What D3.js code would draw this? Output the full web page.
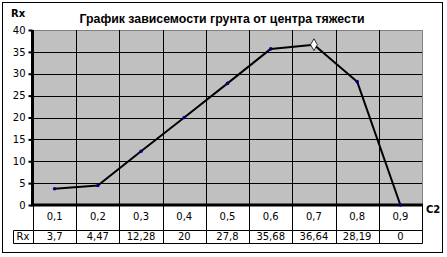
<!DOCTYPE html>
<html>
<head>
<meta charset="utf-8">
<script src="https://cdn.jsdelivr.net/npm/d3@7"></script>
<style>
body { margin: 0; background: #fff; }
svg { display: block; }
</style>
</head>
<body>
<svg width="447" height="257"></svg>
<script>
var categories = ["0,1", "0,2", "0,3", "0,4", "0,5", "0,6", "0,7", "0,8", "0,9"];
var rxValues = [3.7, 4.47, 12.28, 20, 27.8, 35.68, 36.64, 28.19, 0];
var rxLabels = ["3,7", "4,47", "12,28", "20", "27,8", "35,68", "36,64", "28,19", "0"];
var yTicks = [0, 5, 10, 15, 20, 25, 30, 35, 40];
var highlighted = "0,7";

var title = "График зависемости грунта от центра тяжести";

var plotLeft = 33, plotRight = 422, plotTop = 30, plotBottom = 205;
var rowH = 25, row2H = 13;

var svg = d3.select("svg");

// outer frame
svg.append("rect")
    .attr("x", 2.5).attr("y", 2.5)
    .attr("width", 440).attr("height", 250)
    .attr("fill", "#fff")
    .attr("stroke", "#000")
    .attr("stroke-width", 1);

var x = d3.scaleBand().domain(categories).range([plotLeft, plotRight]);
var y = d3.scaleLinear().domain([0, 40]).range([plotBottom, plotTop]);
var cx = c => x(c) + x.bandwidth() / 2;

// plot background
svg.append("rect")
    .attr("x", plotLeft + 0.5).attr("y", plotTop + 0.5)
    .attr("width", plotRight - plotLeft).attr("height", plotBottom - plotTop)
    .attr("fill", "#c0c0c0")
    .attr("stroke", "#808080")
    .attr("stroke-width", 1);

// horizontal grid
svg.append("g")
    .selectAll("line")
    .data(yTicks.filter(d => d > 0 && d < 40))
    .enter().append("line")
    .attr("x1", plotLeft).attr("x2", plotRight)
    .attr("y1", d => Math.round(y(d)) + 0.5)
    .attr("y2", d => Math.round(y(d)) + 0.5)
    .attr("stroke", "#000");

// vertical grid, carried down through the table
var bounds = categories.slice(1).map(c => Math.round(x(c)) + 0.5);
svg.append("g")
    .selectAll("line")
    .data(bounds)
    .enter().append("line")
    .attr("x1", d => d).attr("x2", d => d)
    .attr("y1", plotTop).attr("y2", plotBottom + rowH + row2H + 0.5)
    .attr("stroke", "#000");

// y axis
var yAxis = d3.axisLeft(y).tickValues(yTicks).tickSize(4).tickPadding(3);
var gy = svg.append("g")
    .attr("transform", "translate(" + (plotLeft - 0.5) + ",0)")
    .call(yAxis);
gy.select(".domain")
    .attr("stroke-width", 3)
    .attr("d", "M0," + plotTop + "V" + (plotBottom + 1));
gy.selectAll(".tick line").attr("stroke-width", 2);
gy.selectAll(".tick text")
    .attr("font-family", "DejaVu Sans")
    .attr("font-size", 10)
    .attr("fill", "#000");

// bottom axis line
svg.append("line")
    .attr("x1", plotLeft - 2).attr("x2", plotRight + 1)
    .attr("y1", plotBottom).attr("y2", plotBottom)
    .attr("stroke", "#000").attr("stroke-width", 3);

// data table
var table = svg.append("g");
[plotBottom + rowH + 0.5, plotBottom + rowH + row2H + 0.5].forEach(function (yy) {
    table.append("line")
        .attr("x1", plotLeft - 19.5).attr("x2", plotRight + 0.5)
        .attr("y1", yy).attr("y2", yy)
        .attr("stroke", "#000");
});
table.append("line")
    .attr("x1", plotLeft - 19.5).attr("x2", plotLeft - 19.5)
    .attr("y1", plotBottom + rowH + 0.5).attr("y2", plotBottom + rowH + row2H + 0.5)
    .attr("stroke", "#000");
[plotLeft + 0.5, plotRight + 0.5].forEach(function (xx) {
    table.append("line")
        .attr("x1", xx).attr("x2", xx)
        .attr("y1", plotBottom).attr("y2", plotBottom + rowH + row2H + 0.5)
        .attr("stroke", "#000");
});

table.selectAll("text.cat")
    .data(categories)
    .enter().append("text")
    .attr("class", "cat")
    .attr("x", d => cx(d))
    .attr("y", plotBottom + 15)
    .attr("text-anchor", "middle")
    .attr("font-family", "DejaVu Sans")
    .attr("font-size", 10)
    .text(d => d);

table.selectAll("text.val")
    .data(rxLabels)
    .enter().append("text")
    .attr("class", "val")
    .attr("x", (d, i) => cx(categories[i]))
    .attr("y", plotBottom + rowH + 10)
    .attr("text-anchor", "middle")
    .attr("font-family", "DejaVu Sans")
    .attr("font-size", 10)
    .text(d => d);

table.append("text")
    .attr("x", plotLeft - 10)
    .attr("y", plotBottom + rowH + 10)
    .attr("text-anchor", "middle")
    .attr("font-family", "DejaVu Sans")
    .attr("font-size", 10)
    .text("Rx");

// series line
var line = d3.line()
    .x((d, i) => cx(categories[i]))
    .y(d => y(d));

svg.append("path")
    .attr("d", line(rxValues))
    .attr("fill", "none")
    .attr("stroke", "#000")
    .attr("stroke-width", 2)
    .attr("stroke-linejoin", "round");

var hi = categories.indexOf(highlighted);
svg.append("g")
    .selectAll("circle")
    .data(rxValues.map((v, i) => ({ c: categories[i], v: v })).filter(d => d.c != highlighted))
    .enter().append("circle")
    .attr("cx", d => cx(d.c))
    .attr("cy", d => y(d.v))
    .attr("r", 1.8)
    .attr("fill", "#000080");

svg.append("path")
    .attr("d", d3.symbol().type(d3.symbolDiamond).size(40)())
    .attr("transform", "translate(" + cx(highlighted) + "," + y(rxValues[hi]) + ")")
    .attr("fill", "#fff")
    .attr("stroke", "#000")
    .attr("stroke-width", 0.8);

// titles
svg.append("text")
    .attr("x", 222).attr("y", 23)
    .attr("text-anchor", "middle")
    .attr("font-family", "Liberation Sans")
    .attr("font-weight", "bold")
    .attr("font-size", 12)
    .attr("textLength", 285)
    .attr("lengthAdjust", "spacingAndGlyphs")
    .text(title);

svg.append("text")
    .attr("x", 11).attr("y", 17)
    .attr("font-family", "DejaVu Sans")
    .attr("font-weight", "bold")
    .attr("font-size", 10)
    .text("Rx");

svg.append("text")
    .attr("x", 426).attr("y", 213)
    .attr("font-family", "DejaVu Sans")
    .attr("font-weight", "bold")
    .attr("font-size", 10)
    .text("C2");
</script>
</body>
</html>
